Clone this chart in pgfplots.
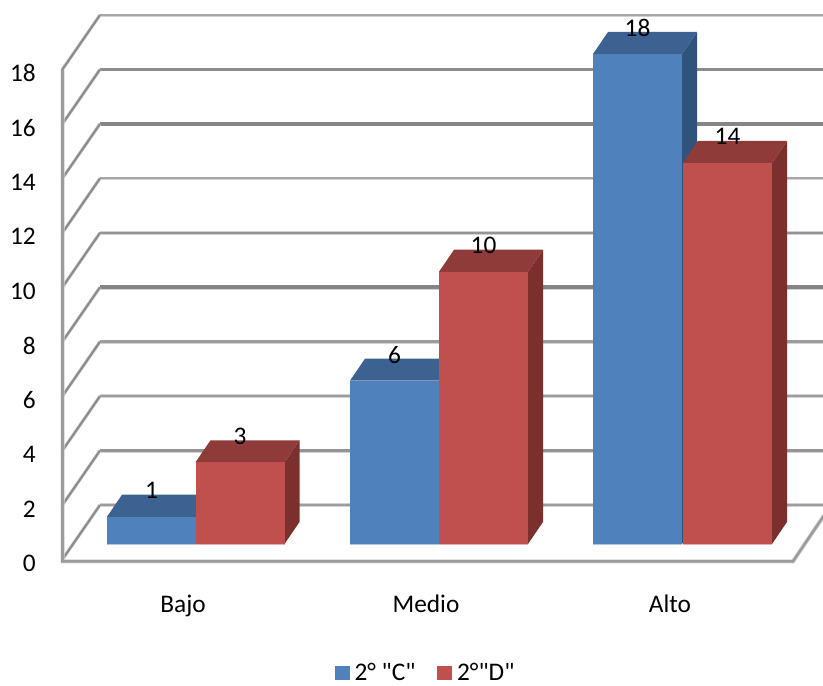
\documentclass[border=0pt]{standalone}
\usepackage{pgfplots}
\pgfplotsset{compat=1.18}
\usepackage{fontspec}
\setmainfont{Carlito}
% a second family without TeX ligatures keeps the straight quotes straight
\newfontfamily\straightfont{Carlito}

% colours of the three visible faces of each series
\definecolor{blueFront}{HTML}{4F81BD}
\definecolor{blueTop}{HTML}{3B6291}
\definecolor{blueSide}{HTML}{30537C}
\definecolor{redFront}{HTML}{C0504D}
\definecolor{redTop}{HTML}{8F3B39}
\definecolor{redSide}{HTML}{7B302E}
\definecolor{wallGrey}{HTML}{9C9C9C}

% one wall gridline: #1 value, #2 value on the back wall, #3 grey, #4 width of the back segment
\newcommand{\wallline}[4]{%
  \addplot[forget plot, draw=wallGrey!45, line width=#4+0.8pt]
    coordinates {(100,#2) (823,#2)};
  \addplot[forget plot, draw=#3, line width=#4]
    coordinates {(100,#2) (823,#2)};
  \addplot[forget plot, draw=wallGrey!45, line width=2.5pt]
    coordinates {(62,#1) (100,#2)};
  \addplot[forget plot, draw=wallGrey!90!black, line width=1.6pt]
    coordinates {(62,#1) (100,#2)};
}

% one extruded bar: #1 left edge, #2 value, #3 colour prefix
\newcommand{\threedbar}[3]{%
  \pgfmathsetmacro{\xr}{#1+89}%
  \pgfmathsetmacro{\xba}{#1+15}%
  \pgfmathsetmacro{\xbb}{#1+104}%
  \pgfmathsetmacro{\yb}{#2+0.81}%
  \pgfmathsetmacro{\xc}{#1+44.5}%
  \pgfmathsetmacro{\yl}{#2+0.96}%
  \addplot[forget plot, draw=#3Front!45, line width=1.4pt]
    coordinates {(#1,0) (\xr,0)};
  \addplot[forget plot, draw=none, fill=#3Side]
    coordinates {(\xr,0) (\xbb,0.81) (\xbb,\yb) (\xr,#2)};
  \addplot[forget plot, draw=none, fill=#3Top]
    coordinates {(#1,#2) (\xr,#2) (\xbb,\yb) (\xba,\yb)};
  \addplot[forget plot, draw=none, fill=#3Front]
    coordinates {(#1,0) (\xr,0) (\xr,#2) (#1,#2)};
  \addplot[forget plot, draw=none, mark=none,
    nodes near coords={#2},
    every node near coord/.style={anchor=center, inner sep=0pt, font=\fontsize{19}{21}\selectfont, text=black}]
    coordinates {(\xc,\yl)};
}

\begin{document}
\begin{tikzpicture}
\useasboundingbox (0,0) rectangle (617.25pt,513.75pt);

% walls, floor, axis text and legend
\begin{axis}[
  at={(0,0)}, anchor=south west,
  scale only axis, width=617.25pt, height=513.75pt,
  xmin=0, xmax=823, ymin=-4.592, ymax=20.573,
  axis line style={draw=none},
  major tick length=0pt,
  ytick={0,2,...,18},
  xtick={183,426,670},
  xticklabels={Bajo,Medio,Alto},
  /pgf/number format/assume math mode=true,
  tick label style={font=\fontsize{19}{21}\selectfont},
  yticklabel style={anchor=east, inner sep=0pt, xshift=27pt, yshift=-2.5pt},
  xticklabel style={anchor=base, inner sep=0pt, yshift=54.5pt},
  legend style={at={(426/823,12/685)}, anchor=center, draw=none, fill=none,
    inner sep=0pt, outer sep=0pt, font=\fontsize{19}{21}\straightfont,
    /tikz/every even column/.style={column sep=14.5pt},
    /tikz/every odd column/.style={column sep=1.5pt}},
  legend columns=2,
  legend cell align=left,
  legend image code/.code={\fill[#1] (0pt,-5.6pt) rectangle (11.2pt,5.6pt);},
]
\wallline{18}{20.02}{wallGrey!90}{1.4pt}
\wallline{16}{18.02}{wallGrey!90!black}{1.8pt}
\wallline{14}{16.02}{wallGrey!85!black}{2.8pt}
\wallline{12}{14.02}{wallGrey!90}{1.4pt}
\wallline{10}{12.02}{wallGrey!95!black}{1.8pt}
\wallline{8}{10.02}{wallGrey!85!black}{2.8pt}
\wallline{6}{8.02}{wallGrey}{2pt}
\wallline{4}{6.02}{wallGrey}{1.7pt}
\wallline{2}{4.02}{wallGrey!95!black}{2.2pt}
\wallline{0}{2.02}{wallGrey}{2pt}
% left edge and floor front
\addplot[forget plot, draw=wallGrey!45, line width=3pt]
  coordinates {(62.5,18) (62.5,-0.05) (793,-0.05) (831,2.02)};
\addplot[forget plot, draw=wallGrey, line width=1.9pt]
  coordinates {(62.5,18) (62.5,-0.05) (793,-0.05) (831,2.02)};
\addlegendimage{draw=none, fill=blueFront}
\addlegendentry{2° "C"}
\addlegendimage{draw=none, fill=redFront}
\addlegendentry{2°"D"}
\end{axis}

% the bars stand on a baseline set forward of the back wall
\begin{axis}[
  at={(0,0)}, anchor=south west,
  scale only axis, width=617.25pt, height=513.75pt,
  xmin=0, xmax=823, ymin=-5.18, ymax=19.985,
  hide axis,
]
\threedbar{107}{1}{blue}
\threedbar{195.5}{3}{red}
\threedbar{350}{6}{blue}
\threedbar{439}{10}{red}
\threedbar{593}{18}{blue}
\threedbar{683}{14}{red}
\end{axis}
\end{tikzpicture}
\end{document}
